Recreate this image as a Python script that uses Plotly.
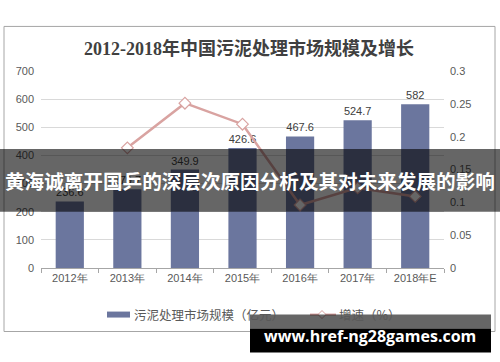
import plotly.graph_objects as go

years = ["2012年", "2013年", "2014年", "2015年", "2016年", "2017年", "2018年E"]
market = [236.6, 279.7, 349.9, 426.6, 467.6, 524.7, 582]
growth = [None, 0.183, 0.251, 0.219, 0.096, 0.122, 0.109]
market_labels = ["236.6", "279.7", "349.9", "426.6", "467.6", "524.7", "582"]
series_names = ["污泥处理市场规模（亿元）", "增速（%）"]

W, H = 500, 362
L, R, T, B = 41, 444, 70.7, 268.3

BAR_COLOR = "#6b769e"
LINE_COLOR = "#d9a3a1"


def px_x(x):
    return (x - L) / (R - L)


def px_y(y):
    return (B - y) / (B - T)


fig = go.Figure()
fig.add_trace(go.Bar(
    x=years, y=market, name=series_names[0],
    marker=dict(color=BAR_COLOR, line=dict(width=0)),
    width=0.49,
    text=market_labels, textposition="outside", cliponaxis=False,
    textfont=dict(size=11, color="#404040", family="Liberation Sans, Arial, sans-serif"),
))
fig.add_trace(go.Scatter(
    x=years, y=growth, name=series_names[1], yaxis="y2", mode="lines+markers",
    line=dict(color=LINE_COLOR, width=2.5),
    marker=dict(symbol="diamond", size=9, color="white", line=dict(color=LINE_COLOR, width=1.2)),
    cliponaxis=False,
))

tickfont = dict(size=11, color="#595959", family="Liberation Sans, Arial, sans-serif")

fig.update_layout(
    width=W, height=H,
    margin=dict(l=L, r=W - R, t=T, b=H - B, autoexpand=False),
    paper_bgcolor="white", plot_bgcolor="white",
    showlegend=False,
    xaxis=dict(
        type="category", showgrid=False, showline=True, linecolor="#a6a6a6", linewidth=1,
        ticks="outside", tickson="boundaries", ticklen=4, tickcolor="#a6a6a6",
        tickfont=tickfont, automargin=False,
    ),
    yaxis=dict(
        range=[0, 700], dtick=100, showgrid=True, gridcolor="#d9d9d9", gridwidth=1,
        zeroline=False, showline=False, tickfont=tickfont, ticklabelstandoff=6, automargin=False,
    ),
    yaxis2=dict(
        range=[0, 0.3], dtick=0.05, overlaying="y", side="right", showgrid=False,
        zeroline=False, showline=False, tickfont=tickfont, ticklabelstandoff=5, automargin=False,
    ),
    font=dict(family="Noto Sans CJK SC, sans-serif"),
)

shapes = []
# chart border
shapes.append(dict(type="rect", xref="paper", yref="paper",
                   x0=px_x(4), x1=px_x(495), y0=px_y(332), y1=px_y(26),
                   line=dict(color="#a6a6a6", width=1), fillcolor="rgba(0,0,0,0)", layer="below"))
# custom legend: bar swatch
shapes.append(dict(type="rect", xref="paper", yref="paper",
                   x0=px_x(107), x1=px_x(130), y0=px_y(318), y1=px_y(312),
                   line=dict(width=0), fillcolor=BAR_COLOR, layer="above"))
# custom legend: line swatch
shapes.append(dict(type="line", xref="paper", yref="paper",
                   x0=px_x(310), x1=px_x(336), y0=px_y(315), y1=px_y(315),
                   line=dict(color=LINE_COLOR, width=2), layer="above"))
cx, cy, d = 322, 315, 4
path = "M {} {} L {} {} L {} {} L {} {} Z".format(
    px_x(cx), px_y(cy - d), px_x(cx + d), px_y(cy), px_x(cx), px_y(cy + d), px_x(cx - d), px_y(cy))
shapes.append(dict(type="path", xref="paper", yref="paper", path=path,
                   line=dict(color=LINE_COLOR, width=1), fillcolor="white", layer="above"))
# banner overlay
shapes.append(dict(type="rect", xref="paper", yref="paper",
                   x0=px_x(0), x1=px_x(500), y0=px_y(212), y1=px_y(149),
                   line=dict(width=0), fillcolor="rgba(0,0,0,0.6)", layer="above"))
# watermark boxes
shapes.append(dict(type="rect", xref="paper", yref="paper",
                   x0=px_x(250), x1=px_x(491), y0=px_y(329), y1=px_y(315),
                   line=dict(width=0), fillcolor="rgba(0,0,0,0.6)", layer="above"))
shapes.append(dict(type="rect", xref="paper", yref="paper",
                   x0=px_x(250), x1=px_x(491), y0=px_y(353), y1=px_y(329),
                   line=dict(width=0), fillcolor="black", layer="above"))
fig.update_layout(shapes=shapes)

legend_font = dict(size=12.5, color="#595959", family="Noto Sans CJK SC, sans-serif")
fig.add_annotation(text=series_names[0], xref="paper", yref="paper",
                   x=px_x(132), y=px_y(315), showarrow=False, xanchor="left", yanchor="middle",
                   font=legend_font)
fig.add_annotation(text=series_names[1], xref="paper", yref="paper",
                   x=px_x(337), y=px_y(315), showarrow=False, xanchor="left", yanchor="middle",
                   font=legend_font)

fig.add_annotation(text="<b>2012-2018年中国污泥处理市场规模及增长</b>", xref="paper", yref="paper",
                   x=px_x(249), y=px_y(48), showarrow=False, xanchor="center", yanchor="middle",
                   font=dict(size=18, color="#404040", family="Liberation Serif, Noto Sans CJK SC, serif"))
fig.add_annotation(text="<b>黄海诚离开国乒的深层次原因分析及其对未来发展的影响</b>", xref="paper", yref="paper",
                   x=px_x(250), y=px_y(181), showarrow=False, xanchor="center", yanchor="middle",
                   font=dict(size=19.6, color="white", family="Noto Sans CJK SC, sans-serif"))
fig.add_annotation(text="<b>www.href-ng28games.com</b>", xref="paper", yref="paper",
                   x=px_x(370), y=px_y(337), showarrow=False, xanchor="center", yanchor="middle",
                   font=dict(size=16, color="white", family="Open Sans, DejaVu Sans, sans-serif"))

fig.write_html("out.html", config={"displayModeBar": False},
               post_script="document.body.style.margin='0';document.body.style.overflow='hidden';")
